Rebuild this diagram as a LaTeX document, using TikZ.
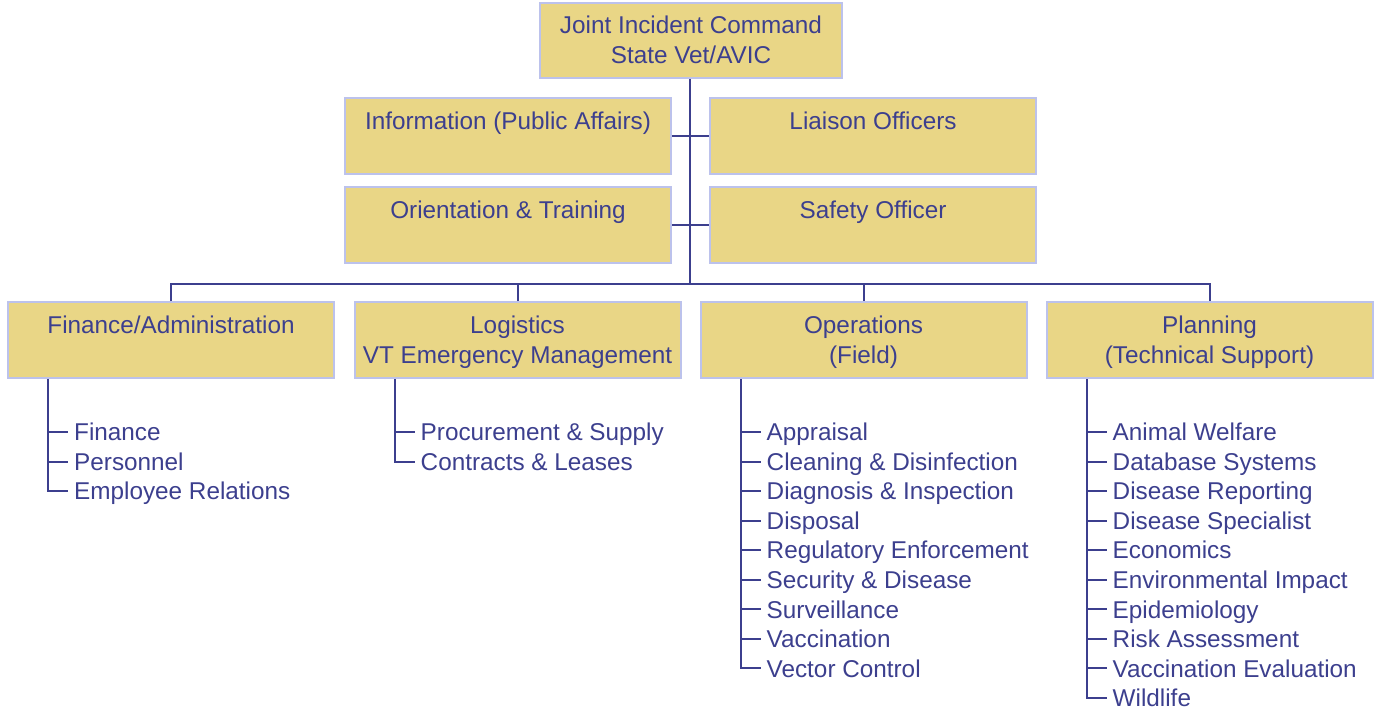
\documentclass[tikz,border=0pt]{standalone}
\usepackage{fontspec}
\setmainfont{Liberation Sans}
\usetikzlibrary{positioning}
\usetikzlibrary{calc}

\definecolor{boxfill}{HTML}{E9D686}
\definecolor{boxline}{HTML}{BCC2EC}
\definecolor{ink}{HTML}{3C3F8E}

\tikzset{
  unit/.style={rectangle, draw=boxline, fill=boxfill, line width=2pt,
    minimum width=326pt, minimum height=76pt, inner sep=0pt,
    text height=47pt, text depth=0pt,
    align=center, text=ink, font=\fontsize{24.3}{30}\selectfont},
  item/.style={anchor=west, inner sep=0pt, text=ink,
    text height=17.5pt, text depth=0pt, font=\fontsize{24.3}{30}\selectfont},
  link/.style={draw=ink, line width=2pt}
}

\begin{document}
\begin{tikzpicture}[x=1pt, y=-1pt]

% page frame
\useasboundingbox (0,0) rectangle (1380,711);

% command and staff boxes
\node[unit, minimum width=302pt, minimum height=75pt] (cmd) at (691,40.5) {Joint Incident Command\\State Vet/AVIC};
\node[unit] (info) at (508,136) {Information (Public Affairs)\\ \mbox{}};
\node[unit] (liaison) at (873,136) {Liaison Officers\\ \mbox{}};
\node[unit] (train) at (508,225) {Orientation \& Training\\ \mbox{}};
\node[unit] (safety) at (873,225) {Safety Officer\\ \mbox{}};

% sections
\node[unit] (fin) at (171,340) {Finance/Administration\\ \mbox{}};
\node[unit] (log) at (517.5,340) {Logistics\\VT Emergency Management};
\node[unit] (ops) at (863.5,340) {Operations\\(Field)};
\node[unit] (plan) at (1209.5,340) {Planning\\(Technical Support)};

% trunk, staff links and bus
\coordinate (bus) at (690,284);
\draw[link] (cmd.south -| bus) -- (bus);
\draw[link] (info.east) -- (liaison.west);
\draw[link] (train.east) -- (safety.west);
\draw[link] (fin.north) |- (bus) -| (plan.north);
\draw[link] (log.north) -- (log.north |- bus);
\draw[link] (ops.north) -- (ops.north |- bus);

% section units
\foreach \sec/\list in {fin/{Finance, Personnel, Employee Relations},
    log/{Procurement \& Supply, Contracts \& Leases},
    ops/{Appraisal, Cleaning \& Disinfection, Diagnosis \& Inspection, Disposal, Regulatory Enforcement, Security \& Disease, Surveillance, Vaccination, Vector Control},
    plan/{Animal Welfare, Database Systems, Disease Reporting, Disease Specialist, Economics, Environmental Impact, Epidemiology, Risk Assessment, Vaccination Evaluation, Wildlife}} {
  \foreach \txt [count=\i] in \list {
    \pgfmathsetmacro{\dy}{53+29.55*(\i-1)}
    \node[item] (\sec-\i) at ($(\sec.south west)+(67,\dy)$) {\txt};
    \draw[link] ($(\sec-\i.west)+(-26,0)$) -- ++(20,0);
    \xdef\last{\i}
  }
  \draw[link] ($(\sec.south west)+(41,0)$) |- ($(\sec-\last.west)+(-6,0)$);
}

\end{tikzpicture}
\end{document}
